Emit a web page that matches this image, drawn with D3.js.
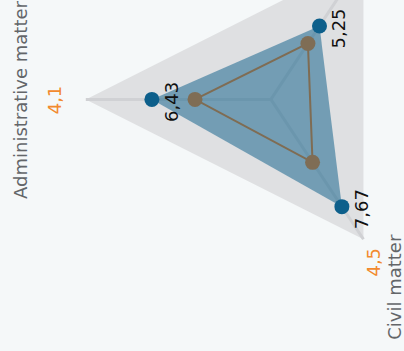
<!DOCTYPE html>
<html><head><meta charset="utf-8">
<script src="https://cdn.jsdelivr.net/npm/d3@7"></script>
<style>html,body{margin:0;padding:0;background:#f5f8f9;}svg{display:block;}</style>
</head><body>
<svg id="c" width="404" height="351"></svg>
<script>
const axesNames = ["Administrative matter", "", "Civil matter"];
const seriesBlue = [6.43, 5.25, 7.67];
const seriesBrown = [4.1, 4.0, 4.5];
const brownLabels = ["4,1", "", "4,5"];
const blueLabels = ["6,43", "5,25", "7,67"];

const svg = d3.select("#c");
const W = 404, H = 351;
svg.append("rect").attr("width", W).attr("height", H).attr("fill", "#f5f8f9");

const cx = 270.9, cy = 99.4, kY = 0.8725;
const r = d3.scaleLinear().domain([0, 10]).range([0, 185.1]);
const ang = d3.scaleLinear().domain([0, axesNames.length]).range([0, 2 * Math.PI]);
function proj(i, v) {
  const a = ang(i), rr = r(v);
  return [cx - Math.cos(a) * rr, cy - Math.sin(a) * rr * kY];
}
const line = d3.line().curve(d3.curveLinearClosed);

// background polygon
svg.append("path").attr("d", line(axesNames.map((d, i) => proj(i, 10))))
  .attr("fill", "#dfe0e2");
// axis lines
axesNames.forEach((d, i) => {
  const p = proj(i, 10);
  svg.append("line").attr("x1", cx).attr("y1", cy).attr("x2", p[0]).attr("y2", p[1])
    .attr("stroke", "#d0d1d4").attr("stroke-width", 3);
});
// blue area
svg.append("path").attr("d", line(seriesBlue.map((v, i) => proj(i, v))))
  .attr("fill", "#0f5f8a").attr("fill-opacity", 0.52);
// brown line
svg.append("path").attr("d", line(seriesBrown.map((v, i) => proj(i, v))))
  .attr("fill", "none").attr("stroke", "#7f6c53").attr("stroke-width", 2);
// points
seriesBlue.forEach((v, i) => {
  const p = proj(i, v);
  svg.append("circle").attr("cx", p[0]).attr("cy", p[1]).attr("r", 7.5).attr("fill", "#0d5f8b");
});
seriesBrown.forEach((v, i) => {
  const p = proj(i, v);
  svg.append("circle").attr("cx", p[0]).attr("cy", p[1]).attr("r", 7.5).attr("fill", "#7f6d55");
});
const font = "DejaVu Sans, Verdana, sans-serif";
// blue value labels
seriesBlue.forEach((v, i) => {
  const p = proj(i, v);
  svg.append("text").attr("transform", `translate(${p[0] + 26},${p[1] + 2.5}) rotate(-90)`)
    .attr("text-anchor", "middle").attr("font-family", font).attr("font-size", 18)
    .attr("fill", "#111").text(blueLabels[i]);
});
// axis labels (the second axis lies outside the visible area)
const valOff = [[-24.6, 0.6], [17, -23], [17, 23]];
const nameOff = [[-58.6, 0.6], [38, -48], [38, 48]];
axesNames.forEach((d, i) => {
  if (!d) return;
  const p = proj(i, 10);
  svg.append("text").attr("transform", `translate(${p[0] + valOff[i][0]},${p[1] + valOff[i][1]}) rotate(-90)`)
    .attr("text-anchor", "middle").attr("font-family", font).attr("font-size", 18)
    .attr("fill", "#f28a2e").text(brownLabels[i]);
  svg.append("text").attr("transform", `translate(${p[0] + nameOff[i][0]},${p[1] + nameOff[i][1]}) rotate(-90)`)
    .attr("text-anchor", "middle").attr("font-family", font).attr("font-size", 18)
    .attr("fill", "#636669").text(d);
});
</script>
</body></html>
